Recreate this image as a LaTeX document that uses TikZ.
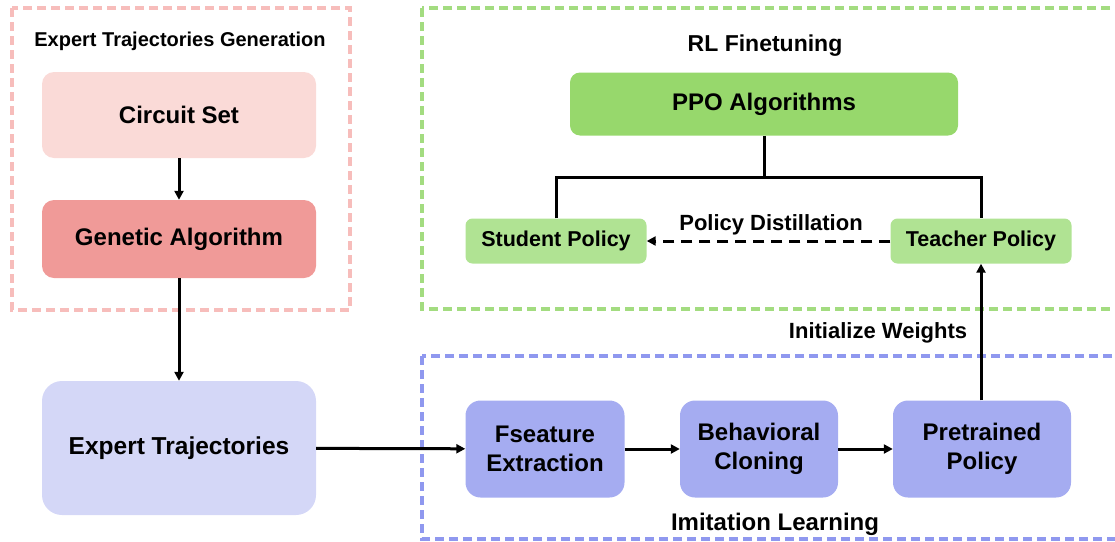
\documentclass[tikz,border=0pt]{standalone}
\usepackage{fontspec}
\setmainfont{Liberation Sans}
\usetikzlibrary{arrows.meta}
\definecolor{redframe}{HTML}{F7BDBB}
\definecolor{greenframe}{HTML}{A3DC80}
\definecolor{blueframe}{HTML}{8F98EF}
\definecolor{circfill}{HTML}{FADAD7}
\definecolor{genfill}{HTML}{F09A98}
\definecolor{etfill}{HTML}{D4D7F7}
\definecolor{bluefill}{HTML}{A5ACF1}
\definecolor{ppofill}{HTML}{97D86C}
\definecolor{polfill}{HTML}{B0E393}
\tikzset{
  box/.style={draw=none, inner sep=0pt, align=center, font=\bfseries\fontsize{24}{29}\selectfont},
  frame/.style={line width=3.2pt, dash pattern=on 9pt off 5pt},
  conn/.style={line width=3pt, draw=black},
  arr/.style={conn, -{Triangle[length=9pt,width=9pt]}},
  lbl/.style={inner sep=0pt, font=\bfseries\fontsize{22}{26}\selectfont},
}
\begin{document}
\begin{tikzpicture}[x=1pt,y=-1pt]
\useasboundingbox (0,0) rectangle (1115,541);
\begin{scope}
\clip (0,0) rectangle (1115,541);
% frames
\draw[frame, draw=redframe] (12,8) rectangle (350,310);
\draw[frame, draw=greenframe] (422,8) rectangle (1130,309);
\draw[frame, draw=blueframe] (422,356) rectangle (1130,539);
\end{scope}
% titles
\node[lbl, font=\bfseries\fontsize{20}{24}\selectfont] (t1) at (180,41) {Expert Trajectories Generation};
\node[lbl, font=\bfseries\fontsize{23}{27}\selectfont] (t2) at (765,46) {RL Finetuning};
\node[lbl, font=\bfseries\fontsize{24}{28}\selectfont] (t3) at (775,524) {Imitation Learning};
% nodes
\node[box, fill=circfill, rounded corners=12pt, minimum width=274pt, minimum height=86pt] (cs) at (179,115) {Circuit Set};
\node[box, fill=genfill, rounded corners=12pt, minimum width=274pt, minimum height=78pt] (ga) at (179,239) {Genetic Algorithm};
\node[box, fill=etfill, rounded corners=20pt, minimum width=274pt, minimum height=134pt, font=\bfseries\fontsize{24.5}{30}\selectfont] (et) at (179,448) {Expert Trajectories};
\node[box, fill=ppofill, rounded corners=10pt, minimum width=388pt, minimum height=63pt] (ppo) at (764,104) {PPO Algorithms};
\node[box, fill=polfill, rounded corners=7pt, minimum width=181pt, minimum height=45pt, font=\bfseries\fontsize{21.5}{26}\selectfont] (sp) at (556,241) {Student Policy};
\node[box, fill=polfill, rounded corners=7pt, minimum width=181pt, minimum height=45pt, font=\bfseries\fontsize{21.5}{26}\selectfont] (tp) at (981,241) {Teacher Policy};
\node[box, fill=bluefill, rounded corners=15pt, minimum width=159pt, minimum height=97pt] (fe) at (545,449) {Fseature\\Extraction};
\node[box, fill=bluefill, rounded corners=15pt, minimum width=158pt, minimum height=97pt] (bc) at (759,449) {Behavioral\\Cloning};
\node[box, fill=bluefill, rounded corners=15pt, minimum width=178pt, minimum height=97pt] (pp) at (982,449) {Pretrained\\Policy};
\coordinate (j) at (764,177);
% connectors
\draw[arr] (cs) -- (ga);
\draw[arr] (ga) -- (et);
\draw[arr] (et) -- (fe);
\draw[arr] (fe) -- (bc);
\draw[arr] (bc) -- (pp);
\draw[conn] (ppo) -- (j);
\draw[conn] (sp.north) |- (j) -| (tp.north);
\draw[arr, dash pattern=on 11pt off 7pt] (tp) -- (sp);
\draw[arr] (pp.north -| tp) -- (tp.south);
\node[lbl] (pd) at (771,225) {Policy Distillation};
\node[lbl] (iw) at (878,333) {Initialize Weights};
\end{tikzpicture}
\end{document}
